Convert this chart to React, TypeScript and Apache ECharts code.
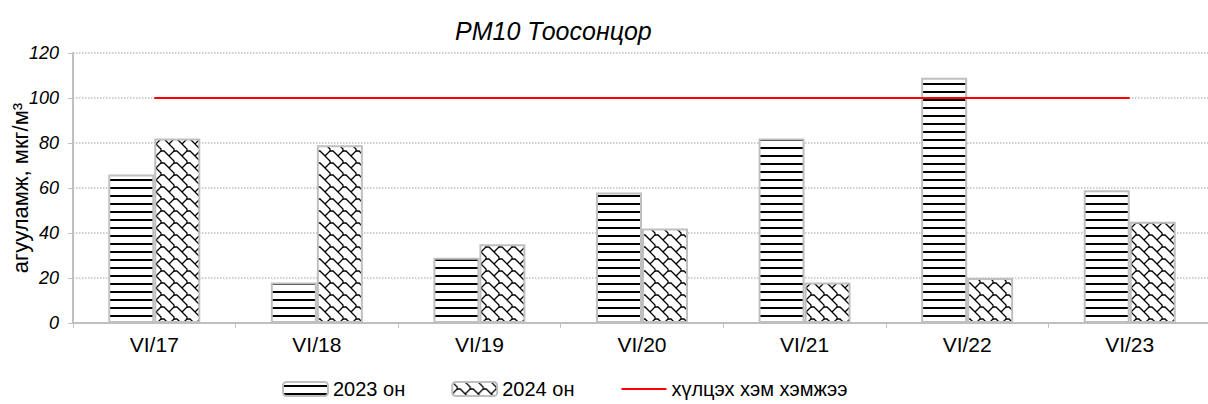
import React, { useEffect, useRef } from 'react';
import * as echarts from 'echarts';

const categories = ['VI/17', 'VI/18', 'VI/19', 'VI/20', 'VI/21', 'VI/22', 'VI/23'];
const values2023 = [66, 18, 29, 58, 82, 109, 59];
const values2024 = [82, 79, 35, 42, 18, 20, 45];
const limitValues = [100, 100, 100, 100, 100, 100, 100];
const seriesNames = ['2023 он', '2024 он', 'хүлцэх хэм хэмжээ'];
const titleText = 'PM10 Тоосонцор';
const yAxisName = 'агууламж, мкг/м³';

function stripeCanvas(): HTMLCanvasElement {
  const c = document.createElement('canvas');
  c.width = 8;
  c.height = 8;
  const ctx = c.getContext('2d')!;
  ctx.fillStyle = '#ffffff';
  ctx.fillRect(0, 0, 8, 8);
  ctx.fillStyle = '#000000';
  ctx.fillRect(0, 3, 8, 2);
  return c;
}

function shingleCanvas(): HTMLCanvasElement {
  const w = 13;
  const h = 12;
  const c = document.createElement('canvas');
  c.width = w;
  c.height = h;
  const ctx = c.getContext('2d')!;
  ctx.fillStyle = '#ffffff';
  ctx.fillRect(0, 0, w, h);
  ctx.strokeStyle = '#000000';
  ctx.lineWidth = 1.3;
  const segs: number[][][] = [
    [[0, 0], [5, 5], [5, 7], [0, 12]],
    [[5, 7], [8, 7], [13, 12]],
  ];
  for (let ox = -1; ox <= 1; ox++) {
    for (let oy = -1; oy <= 1; oy++) {
      for (const s of segs) {
        ctx.beginPath();
        s.forEach((p, i) => {
          const x = p[0] + ox * w;
          const y = p[1] + oy * h;
          if (i === 0) ctx.moveTo(x, y);
          else ctx.lineTo(x, y);
        });
        ctx.stroke();
      }
    }
  }
  return c;
}

export default function App() {
  const ref = useRef<HTMLDivElement>(null);
  useEffect(() => {
    if (!ref.current) return;
    const chart = echarts.init(ref.current, undefined, { renderer: 'svg' });
    const font = 'Arial, "Liberation Sans", sans-serif';
    const stripes = stripeCanvas();
    const shingle = shingleCanvas();
    chart.setOption({
      animation: false,
      backgroundColor: '#ffffff',
      textStyle: { fontFamily: font, color: '#000' },
      title: {
        text: titleText,
        left: 450,
        top: 13,
        textStyle: { fontStyle: 'italic', fontWeight: 'normal', fontSize: 25, color: '#000', fontFamily: font },
      },
      grid: { left: 73, right: -3, top: 53, bottom: 81, containLabel: false, outerBoundsMode: 'none' },
      legend: {
        data: [
          { name: seriesNames[0] },
          { name: seriesNames[1] },
          { name: seriesNames[2], itemStyle: { opacity: 0 } },
        ],
        left: 282,
        top: 379,
        padding: 0,
        itemGap: 46,
        itemWidth: 45,
        itemHeight: 14,
        textStyle: { fontSize: 20, color: '#000', fontFamily: font },
      },
      xAxis: {
        type: 'category',
        data: categories,
        axisLine: { lineStyle: { color: '#bfbfbf', width: 2 } },
        axisTick: { show: true, length: 5, lineStyle: { color: '#bfbfbf' } },
        axisLabel: { fontSize: 21, color: '#000', margin: 11, fontFamily: font },
      },
      yAxis: {
        type: 'value',
        min: 0,
        max: 120,
        interval: 20,
        name: yAxisName,
        nameLocation: 'middle',
        nameGap: 42,
        nameMoveOverlap: false,
        nameTextStyle: { fontSize: 22, color: '#000', fontFamily: font },
        axisLine: { show: true, lineStyle: { color: '#bfbfbf', width: 2 } },
        axisTick: { show: true, length: 5, lineStyle: { color: '#bfbfbf' } },
        axisLabel: { fontSize: 18, fontStyle: 'italic', color: '#000', margin: 14, fontFamily: font },
        splitLine: { lineStyle: { color: '#bfbfbf', type: 'dotted', width: 1.5 } },
      },
      series: [
        {
          name: seriesNames[0],
          type: 'bar',
          data: values2023,
          barWidth: 46,
          barGap: '0%',
          itemStyle: {
            color: { image: stripes, repeat: 'repeat', imageWidth: 8, imageHeight: 8 },
            borderColor: '#bfbfbf',
            borderWidth: 2,
          },
        },
        {
          name: seriesNames[1],
          type: 'bar',
          data: values2024,
          barWidth: 46,
          barGap: '0%',
          itemStyle: {
            color: { image: shingle, repeat: 'repeat', imageWidth: 13, imageHeight: 12 },
            borderColor: '#bfbfbf',
            borderWidth: 2,
          },
        },
        {
          name: seriesNames[2],
          type: 'line',
          data: limitValues,
          symbol: 'none',
          z: 5,
          lineStyle: { color: '#ff0000', width: 2 },
          itemStyle: { color: '#ff0000' },
        },
      ],
    });
    return () => chart.dispose();
  }, []);
  return (
    <div
      ref={ref}
      style={{ position: 'fixed', left: 0, top: 0, width: 1208, height: 404, background: '#fff' }}
    />
  );
}
